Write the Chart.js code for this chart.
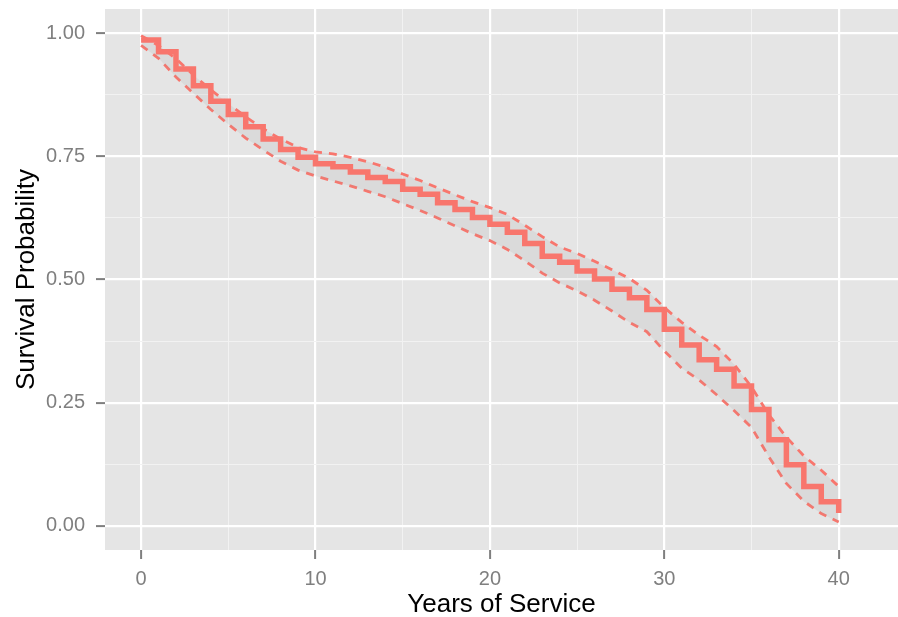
<!DOCTYPE html>
<html>
<head>
<meta charset="utf-8">
<title>Survival Probability</title>
<script src="https://cdn.jsdelivr.net/npm/chart.js@4"></script>
<style>
    html, body { margin: 0; padding: 0; background: #ffffff; }
    #wrap { width: 898px; height: 617px; }
</style>
</head>
<body>
<div id="wrap"><canvas id="survChart" width="898" height="617"></canvas></div>
<script>
// Kaplan-Meier curve
const years = [0, 1, 2, 3, 4, 5, 6, 7, 8, 9, 10, 11, 12, 13, 14, 15, 16, 17, 18, 19, 20,
    21, 22, 23, 24, 25, 26, 27, 28, 29, 30, 31, 32, 33, 34, 35, 36, 37, 38, 39, 40];
const survival = [0.986, 0.962, 0.927, 0.893, 0.862, 0.835, 0.810, 0.785, 0.764, 0.748, 0.735,
    0.729, 0.718, 0.707, 0.699, 0.683, 0.673, 0.656, 0.642, 0.626, 0.612,
    0.596, 0.573, 0.547, 0.535, 0.517, 0.501, 0.480, 0.463, 0.439, 0.399,
    0.367, 0.337, 0.318, 0.284, 0.236, 0.175, 0.124, 0.080, 0.049, 0.026];
const lowerCI = [0.975, 0.949, 0.911, 0.878, 0.845, 0.815, 0.787, 0.763, 0.740, 0.722, 0.710,
    0.700, 0.690, 0.679, 0.668, 0.654, 0.640, 0.625, 0.609, 0.593, 0.579,
    0.561, 0.538, 0.513, 0.493, 0.477, 0.458, 0.436, 0.413, 0.394, 0.355,
    0.320, 0.296, 0.266, 0.234, 0.200, 0.140, 0.086, 0.050, 0.025, 0.008];
const upperCI = [0.995, 0.975, 0.948, 0.915, 0.885, 0.857, 0.830, 0.806, 0.785, 0.768, 0.759,
    0.755, 0.748, 0.739, 0.728, 0.714, 0.701, 0.686, 0.672, 0.658, 0.646,
    0.632, 0.610, 0.587, 0.566, 0.553, 0.537, 0.520, 0.502, 0.478, 0.443,
    0.413, 0.387, 0.364, 0.328, 0.282, 0.225, 0.180, 0.142, 0.113, 0.080];

const xMajor = [0, 10, 20, 30, 40];
const xMinor = [5, 15, 25, 35];
const yMajor = [0, 0.25, 0.5, 0.75, 1];
const yMinor = [0.125, 0.375, 0.625, 0.875];

const lineColor = "#F8766D";
const fontFamily = "'Liberation Sans', Arial, Helvetica, sans-serif";

function points(values) {
    return years.map((x, i) => ({ x: x, y: values[i] }));
}

// grey ggplot panel behind the plot area
const panelBg = {
    id: "panelBg",
    beforeDraw(chart) {
        const { ctx, chartArea: a } = chart;
        ctx.save();
        ctx.fillStyle = "#E5E5E5";
        ctx.fillRect(a.left, a.top, a.right - a.left, a.bottom - a.top);
        ctx.restore();
    }
};

function gridFor(major) {
    return {
        color: c => major.includes(c.tick.value) ? "#FFFFFF" : "#F2F2F2",
        lineWidth: c => major.includes(c.tick.value) ? 2.2 : 1,
        tickColor: c => major.includes(c.tick.value) ? "#7F7F7F" : "rgba(0,0,0,0)",
        tickLength: 9,
        tickWidth: 2,
        drawTicks: true
    };
}

// no extra room for the end labels, the panel is placed by hand
function noPad(s) {
    s.paddingTop = 0;
    s.paddingBottom = 0;
    s.paddingLeft = 0;
    s.paddingRight = 0;
}

const ctx = document.getElementById("survChart").getContext("2d");
new Chart(ctx, {
    type: "line",
    data: {
        datasets: [
            {
                label: "survival",
                data: points(survival),
                stepped: true,
                borderColor: lineColor,
                borderWidth: 5.5,
                pointRadius: 0,
                fill: false
            },
            {
                label: "upper",
                data: points(upperCI),
                borderColor: lineColor,
                borderWidth: 2.8,
                borderDash: [8, 7],
                pointRadius: 0,
                fill: "+1",
                backgroundColor: "rgba(153,153,153,0.14)"
            },
            {
                label: "lower",
                data: points(lowerCI),
                borderColor: lineColor,
                borderWidth: 2.8,
                borderDash: [8, 7],
                pointRadius: 0,
                fill: false
            }
        ]
    },
    options: {
        responsive: false,
        animation: false,
        layout: { padding: { top: 9, right: 0, bottom: 0, left: 0 } },
        plugins: {
            legend: { display: false },
            tooltip: { enabled: false }
        },
        scales: {
            x: {
                type: "linear",
                min: -2.07,
                max: 43.4,
                afterBuildTicks: s => {
                    s.ticks = xMajor.concat(xMinor).sort((a, b) => a - b).map(v => ({ value: v }));
                },
                afterFit: s => { s.height = 67; noPad(s); },
                grid: gridFor(xMajor),
                border: { display: false },
                ticks: {
                    autoSkip: false,
                    maxRotation: 0,
                    padding: 8,
                    color: "#7F7F7F",
                    font: { family: fontFamily, size: 20 },
                    callback: v => xMajor.includes(v) ? String(v) : ""
                },
                title: {
                    display: true,
                    text: "Years of Service",
                    color: "#000000",
                    font: { family: fontFamily, size: 26, lineHeight: 1 },
                    padding: { top: 0, bottom: -1 }
                }
            },
            y: {
                type: "linear",
                min: -0.049,
                max: 1.049,
                afterBuildTicks: s => {
                    s.ticks = yMajor.concat(yMinor).sort((a, b) => a - b).map(v => ({ value: v }));
                },
                afterFit: s => { s.width = 105; noPad(s); },
                grid: gridFor(yMajor),
                border: { display: false },
                ticks: {
                    autoSkip: false,
                    padding: 11,
                    color: "#7F7F7F",
                    font: { family: fontFamily, size: 20 },
                    callback: v => yMajor.includes(v) ? v.toFixed(2) : ""
                },
                title: {
                    display: true,
                    text: "Survival Probability",
                    color: "#000000",
                    font: { family: fontFamily, size: 26, lineHeight: 1 },
                    padding: { top: 14, bottom: 0 }
                }
            }
        }
    },
    plugins: [panelBg]
});
</script>
</body>
</html>
